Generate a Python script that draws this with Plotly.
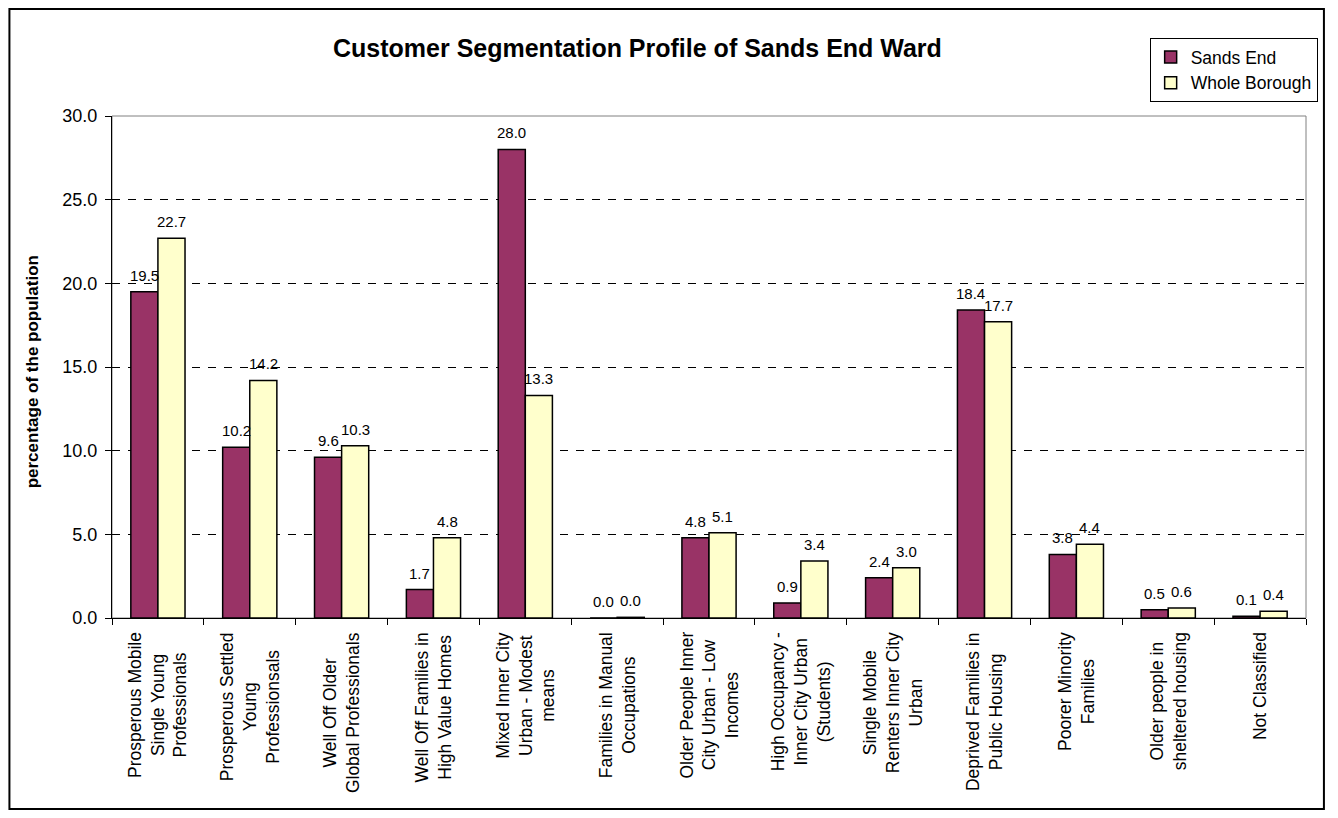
import plotly.graph_objects as go

categories = [
    "Prosperous Mobile<br>Single Young<br>Professionals",
    "Prosperous Settled<br>Young<br>Professionsals",
    "Well Off Older<br>Global Professionals",
    "Well Off Families in<br>High Value Homes",
    "Mixed Inner City<br>Urban - Modest<br>means",
    "Families in Manual<br>Occupations",
    "Older People Inner<br>City Urban - Low<br>Incomes",
    "High Occupancy -<br>Inner City Urban<br>(Students)",
    "Single Mobile<br>Renters Inner City<br>Urban",
    "Deprived Families in<br>Public Housing",
    "Poorer Minority<br>Families",
    "Older people in<br>sheltered housing",
    "Not Classified",
]
sands_end = [19.5, 10.2, 9.6, 1.7, 28.0, 0.0, 4.8, 0.9, 2.4, 18.4, 3.8, 0.5, 0.1]
whole_borough = [22.7, 14.2, 10.3, 4.8, 13.3, 0.04, 5.1, 3.4, 3.0, 17.7, 4.4, 0.6, 0.4]
y_ticks = [0, 5, 10, 15, 20, 25, 30]

FONT = "Liberation Sans, Arial, sans-serif"

# figure is placed at (8, 8) in the page (body margin); work in page coords
OFF = 8
W, H = 1322, 802
L, R, T, B = 112 - OFF, W - (1311 - OFF), 116 - OFF, H - (618 - OFF)
pw, ph = W - L - R, H - T - B


def px(x):
    return (x - OFF - L) / pw


def py(y):
    return (H - B - (y - OFF)) / ph


BARGAP = 0.41
cat_w = pw / len(categories)
bar_w = cat_w * (1 - BARGAP) / 2

fig = go.Figure()
fig.add_trace(go.Bar(
    name="Sands End", x=categories, y=sands_end,
    marker=dict(color="#993366", line=dict(color="black", width=1.5)),
))
fig.add_trace(go.Bar(
    name="Whole Borough", x=categories, y=whole_borough,
    marker=dict(color="#FFFFCC", line=dict(color="black", width=1.5)),
))

# data labels
for vals, sh in ((sands_end, -bar_w / 2), (whole_borough, bar_w / 2)):
    for c, v in zip(categories, vals):
        fig.add_annotation(
            x=c, y=v, xref="x", yref="y", text=f"{v:.1f}", showarrow=False,
            xanchor="center", yanchor="bottom", xshift=sh, yshift=6,
            font=dict(size=15, family=FONT, color="black"),
        )

# category labels (rotated, lines centred)
for c in categories:
    fig.add_annotation(
        x=c, y=py(630), xref="x", yref="paper", text=c, showarrow=False,
        textangle=-90, xanchor="center", yanchor="top", align="center",
        font=dict(size=17.5, family=FONT, color="black"),
    )

fig.update_layout(
    width=W, height=H,
    margin=dict(l=L, r=R, t=T, b=B, pad=0),
    paper_bgcolor="white", plot_bgcolor="white",
    font=dict(family=FONT, size=17.5, color="black"),
    barmode="group", bargap=BARGAP, bargroupgap=0,
    showlegend=True,
    legend=dict(
        x=px(1154), y=py(38), xanchor="left", yanchor="top",
        bordercolor="black", borderwidth=1, bgcolor="white",
        font=dict(size=17.5, family=FONT), itemwidth=30,
    ),
)
fig.update_xaxes(
    type="category", tickson="boundaries", showticklabels=False,
    ticks="outside", ticklen=6, tickcolor="black",
    showline=True, linecolor="black", linewidth=1,
    showgrid=False,
)
fig.update_yaxes(
    range=[0, 30], tickvals=y_ticks, tickformat=".1f",
    ticks="outside", ticklen=6, tickcolor="black", ticklabelstandoff=4,
    showline=True, linecolor="black", linewidth=1,
    showgrid=True, gridcolor="black", griddash="8px,8px", gridwidth=1,
    tickfont=dict(size=18, family=FONT), zeroline=False,
)

# plot area border (gray) and outer chart border (black)
fig.add_shape(type="rect", xref="paper", yref="paper", x0=0, x1=1, y0=0, y1=1,
              line=dict(color="#808080", width=1), layer="below")
fig.add_shape(type="rect", xref="paper", yref="paper",
              x0=px(9), x1=px(1329), y0=py(809), y1=py(9),
              line=dict(color="black", width=2))

fig.add_annotation(
    text="<b>Customer Segmentation Profile of Sands End Ward</b>",
    xref="paper", yref="paper", x=px(640), y=py(48),
    xanchor="center", yanchor="middle", showarrow=False,
    font=dict(size=25, family=FONT, color="black"),
)
fig.add_annotation(
    text="<b>percentage of the population</b>",
    xref="paper", yref="paper", x=px(32), y=py(372), textangle=-90,
    xanchor="center", yanchor="middle", showarrow=False,
    font=dict(size=17, family=FONT, color="black"),
)

fig.write_html("out.html")
